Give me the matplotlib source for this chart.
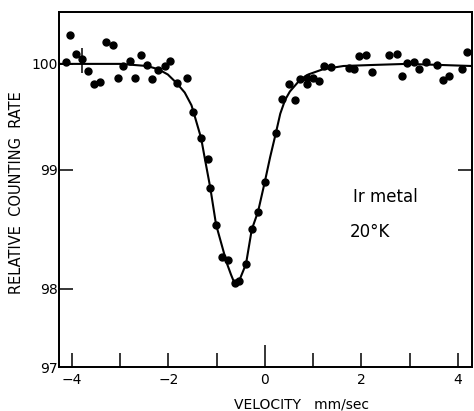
import numpy as np
import matplotlib
matplotlib.use('Agg')
import matplotlib.pyplot as plt

# measured points (velocity mm/sec, relative counting rate)
velocity = [-4.13, -4.04, -3.91, -3.78, -3.66, -3.53, -3.41, -3.29, -3.15, -3.04,
            -2.93, -2.79, -2.68, -2.57, -2.44, -2.33, -2.21, -2.07, -1.97, -1.83,
            -1.61, -1.48, -1.32, -1.18, -1.13, -1.01, -0.89, -0.77, -0.61, -0.53,
            -0.39, -0.27, -0.14, 0.00, 0.23, 0.36, 0.50, 0.62, 0.73, 0.87,
            0.87, 0.99, 1.12, 1.23, 1.37, 1.74, 1.85, 1.96, 2.10, 2.22,
            2.58, 2.73, 2.84, 2.95, 3.09, 3.19, 3.35, 3.57, 3.69, 3.82,
            4.08, 4.18]
rate = [100.02, 100.27, 100.09, 100.05, 99.93, 99.81, 99.83, 100.21, 100.18, 99.87,
        99.98, 100.03, 99.87, 100.08, 99.99, 99.86, 99.94, 99.98, 100.03, 99.82,
        99.87, 99.55, 99.30, 99.10, 98.85, 98.54, 98.27, 98.24, 98.05, 98.07,
        98.21, 98.50, 98.65, 98.90, 99.35, 99.67, 99.81, 99.66, 99.86, 99.87,
        99.81, 99.87, 99.84, 99.98, 99.97, 99.96, 99.95, 100.07, 100.08, 99.92,
        100.08, 100.09, 99.89, 100.01, 100.02, 99.95, 100.02, 99.99, 99.85, 99.89,
        99.95, 100.11]

# one point carries an error bar
err_velocity = [-3.78]
err_rate = [100.03]
err_size = [0.12]

# fitted curve as drawn
fit_velocity = [-4.27, -3.66, -3.00, -2.44, -2.21, -2.01, -1.83, -1.66, -1.52, -1.48,
                -1.32, -1.24, -1.13, -1.01, -0.79, -0.70, -0.63, -0.60, -0.53, -0.39,
                -0.27, -0.14, 0.00, 0.11, 0.23, 0.32, 0.42, 0.52, 0.73, 0.90,
                1.21, 1.63, 2.25, 2.94, 3.63, 4.29]
fit_rate = [100.00, 100.00, 100.00, 99.98, 99.95, 99.90, 99.82, 99.73, 99.61, 99.55,
            99.30, 99.10, 98.85, 98.54, 98.22, 98.12, 98.05, 98.04, 98.07, 98.21,
            98.50, 98.65, 98.90, 99.12, 99.35, 99.53, 99.66, 99.74, 99.85, 99.90,
            99.95, 99.98, 99.99, 100.00, 99.99, 99.98]

x_ticks = [-4, -2, 0, 2, 4]
x_minor = [-3, -1, 1, 3]
y_ticks = [97, 98, 99, 100]

# the printed rate axis is not evenly spaced, follow its tick spacing
axis_values = [96, 97, 98, 99, 100, 101]
axis_heights = [-78, 0, 78, 197, 303, 409]


def forward(v):
    return np.interp(v, axis_values, axis_heights)


def inverse(h):
    return np.interp(h, axis_heights, axis_values)


plt.rcParams['font.family'] = 'DejaVu Sans'
plt.rcParams['font.size'] = 10

fig = plt.figure(figsize=(4.74, 4.11), dpi=100)
ax = fig.add_axes([0.1245, 0.107, 0.8713, 0.864])
ax.set_yscale('function', functions=(forward, inverse))

ax.plot(fit_velocity, fit_rate, color='black', lw=1.5)
ax.plot(velocity, rate, 'o', color='black', ms=5)
ax.errorbar(err_velocity, err_rate, yerr=err_size, fmt='none', ecolor='black', elinewidth=1.1)

ax.set_xlim(-4.265, 4.294)
ax.set_ylim(97, 100.49)

ax.set_xticks(x_ticks)
ax.set_xticks(x_minor, minor=True)
ax.set_yticks(y_ticks)
ax.set_yticklabels([str(t) for t in y_ticks])
ax.yaxis.set_minor_locator(matplotlib.ticker.NullLocator())

ax.tick_params(axis='both', which='both', direction='in', length=10, width=1.1, labelsize=10)
ax.tick_params(axis='x', pad=4)
ax.tick_params(axis='y', pad=1)
# the zero tick is drawn longer
ax.xaxis.get_major_ticks()[2].tick1line.set_markersize(16)

for s in ax.spines.values():
    s.set_linewidth(1.3)

# single tick on the right frame at 99
twin = ax.twinx()
twin.set_yscale('function', functions=(forward, inverse))
twin.set_ylim(97, 100.49)
twin.set_yticks([99])
twin.yaxis.set_minor_locator(matplotlib.ticker.NullLocator())
twin.tick_params(axis='y', direction='in', length=10, width=1.1, labelright=False)
for s in twin.spines.values():
    s.set_linewidth(1.3)

ax.set_xlabel('VELOCITY   mm/sec', fontsize=10)
ax.xaxis.set_label_coords(0.588, -0.087)
ax.set_ylabel('RELATIVE  COUNTING  RATE', fontsize=10.5)
ax.yaxis.set_label_coords(-0.085, 0.49)

ax.text(0.712, 0.479, 'Ir metal', transform=ax.transAxes, fontsize=12, va='center')
ax.text(0.705, 0.380, '20°K', transform=ax.transAxes, fontsize=12, va='center')

fig.savefig('out.png', dpi=100)
